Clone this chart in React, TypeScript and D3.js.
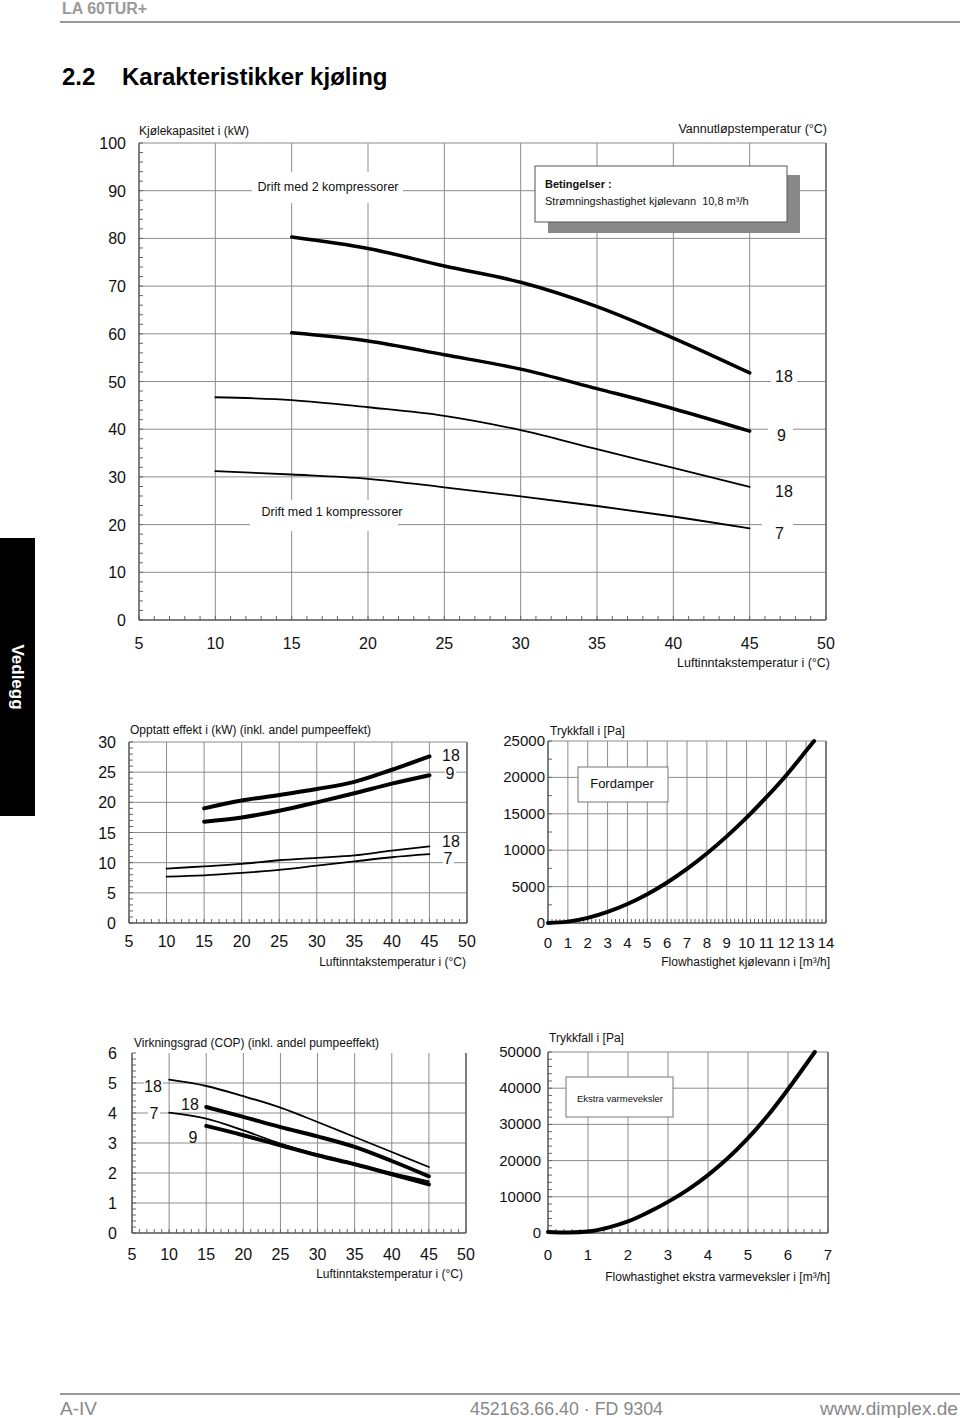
import React from 'react';
import * as d3 from 'd3';

const FONT = "'Liberation Sans', Arial, Helvetica, sans-serif";

// ---------- Chart 1: Kjølekapasitet ----------
const capAirTemps2 = [15, 20, 25, 30, 35, 40, 45];
const cap2comp18 = [80.3, 77.9, 74.2, 70.8, 65.7, 59.1, 51.8];
const cap2comp9 = [60.2, 58.5, 55.6, 52.6, 48.5, 44.3, 39.6];
const capAirTemps1 = [10, 15, 20, 25, 30, 35, 40, 45];
const cap1comp18 = [46.7, 46.1, 44.6, 42.8, 39.8, 35.8, 31.9, 27.9];
const cap1comp7 = [31.2, 30.5, 29.6, 27.8, 25.9, 23.9, 21.7, 19.2];
const capYTicks = [0, 10, 20, 30, 40, 50, 60, 70, 80, 90, 100];
const airXTicks = [5, 10, 15, 20, 25, 30, 35, 40, 45, 50];

// ---------- Chart 2: Opptatt effekt ----------
const powAirTemps2 = [15, 20, 25, 30, 35, 40, 45];
const pow2comp18 = [19.0, 20.3, 21.2, 22.2, 23.4, 25.4, 27.6];
const pow2comp9 = [16.8, 17.5, 18.6, 20.0, 21.5, 23.1, 24.5];
const powAirTemps1 = [10, 15, 20, 25, 30, 35, 40, 45];
const pow1comp18 = [9.0, 9.4, 9.8, 10.4, 10.8, 11.2, 12.0, 12.7];
const pow1comp7 = [7.7, 7.9, 8.3, 8.8, 9.5, 10.2, 10.9, 11.4];
const powYTicks = [0, 5, 10, 15, 20, 25, 30];

// ---------- Chart 3: Trykkfall fordamper ----------
const evapFlow = [0, 1, 2, 3, 4, 5, 6, 7, 8, 9, 10, 11, 12, 13, 13.4];
const evapDp = [0, 190, 700, 1520, 2610, 3960, 5570, 7430, 9550, 11900, 14480, 17280, 20300, 23650, 25000];
const evapXTicks = [0, 1, 2, 3, 4, 5, 6, 7, 8, 9, 10, 11, 12, 13, 14];
const evapYTicks = [0, 5000, 10000, 15000, 20000, 25000];

// ---------- Chart 4: COP ----------
const copAirTemps1 = [10, 15, 20, 25, 30, 35, 40, 45];
const cop1comp18 = [5.11, 4.9, 4.56, 4.18, 3.7, 3.2, 2.7, 2.2];
const cop1comp7 = [4.01, 3.81, 3.42, 2.98, 2.62, 2.31, 2.0, 1.72];
const copAirTemps2 = [15, 20, 25, 30, 35, 40, 45];
const cop2comp18 = [4.2, 3.87, 3.53, 3.22, 2.87, 2.4, 1.89];
const cop2comp9 = [3.57, 3.26, 2.92, 2.59, 2.29, 1.96, 1.62];
const copYTicks = [0, 1, 2, 3, 4, 5, 6];

// ---------- Chart 5: Trykkfall ekstra varmeveksler ----------
const extraFlow = [0, 0.5, 1, 1.5, 2, 2.5, 3, 3.5, 4, 4.5, 5, 5.5, 6, 6.67];
const extraDp = [300, 150, 400, 1500, 3200, 5700, 8600, 12000, 16000, 20700, 26200, 32500, 39700, 50000];
const extraXTicks = [0, 1, 2, 3, 4, 5, 6, 7];
const extraYTicks = [0, 10000, 20000, 30000, 40000, 50000];

type Series = { xs: number[]; ys: number[]; w: number };

type ChartProps = {
  l: number; r: number; t: number; b: number;
  xd: [number, number]; yd: [number, number];
  xTicks: number[]; yTicks: number[];
  xMinor: number; yMinor: number;
  tickFont: number; yLabelX: number; yLabelDy: number; xLabelY: number;
  topBorder: boolean;
  series: Series[];
  children?: (x: d3.ScaleLinear<number, number>, y: d3.ScaleLinear<number, number>) => React.ReactNode;
};

function range(a: number, b: number, step: number) {
  const out: number[] = [];
  const n = Math.round((b - a) / step);
  for (let i = 0; i <= n; i++) out.push(a + i * step);
  return out;
}

function Chart(p: ChartProps) {
  const x = d3.scaleLinear().domain(p.xd).range([p.l, p.r]);
  const y = d3.scaleLinear().domain(p.yd).range([p.b, p.t]);
  const line = d3.line<[number, number]>().x(d => x(d[0])).y(d => y(d[1])).curve(d3.curveCatmullRom.alpha(0.5));
  const gridC = '#8c8c8c';
  const xMinorVals = range(p.xd[0], p.xd[1], p.xMinor);
  const yMinorVals = range(p.yd[0], p.yd[1], p.yMinor);
  return (
    <g>
      {p.xTicks.filter(v => v > p.xd[0]).map(v => (
        <line key={'vx' + v} x1={x(v)} x2={x(v)} y1={p.t} y2={p.b} stroke={gridC} strokeWidth={1} />
      ))}
      {p.yTicks.filter(v => v > p.yd[0] && (p.topBorder || v < p.yd[1])).map(v => (
        <line key={'hy' + v} x1={p.l} x2={p.r} y1={y(v)} y2={y(v)} stroke={gridC} strokeWidth={1} />
      ))}
      {xMinorVals.map((v, i) => (
        <line key={'mx' + i} x1={x(v)} x2={x(v)} y1={p.b} y2={p.b - 4} stroke="#666" strokeWidth={1} />
      ))}
      {yMinorVals.map((v, i) => (
        <line key={'my' + i} x1={p.l} x2={p.l + 4} y1={y(v)} y2={y(v)} stroke="#666" strokeWidth={1} />
      ))}
      <line x1={p.l} x2={p.l} y1={p.t} y2={p.b} stroke="#555" strokeWidth={1.5} />
      <line x1={p.l} x2={p.r} y1={p.b} y2={p.b} stroke="#555" strokeWidth={1.5} />
      {p.xTicks.map(v => (
        <text key={'xl' + v} x={x(v)} y={p.xLabelY} textAnchor="middle" fontSize={p.tickFont} fontFamily={FONT} fill="#111">{v}</text>
      ))}
      {p.yTicks.map(v => (
        <text key={'yl' + v} x={p.yLabelX} y={y(v) + p.yLabelDy} textAnchor="end" fontSize={p.tickFont} fontFamily={FONT} fill="#111">{v}</text>
      ))}
      {p.children ? p.children(x, y) : null}
      {p.series.map((s, i) => (
        <path key={'s' + i} d={line(s.xs.map((v, j) => [v, s.ys[j]] as [number, number])) || ''} fill="none" stroke="#000" strokeWidth={s.w} strokeLinejoin="round" strokeLinecap="round" />
      ))}
    </g>
  );
}

function Lbl({ x, y, text, size = 16, anchor = 'start', bg = true, w = 0, h = 0, bx = 0, by = 0 }: any) {
  return (
    <g>
      {bg ? <rect x={bx} y={by} width={w} height={h} fill="#fff" /> : null}
      <text x={x} y={y} fontSize={size} fontFamily={FONT} textAnchor={anchor} fill="#111">{text}</text>
    </g>
  );
}

export default function App() {
  return (
    <svg width={960} height={1418} style={{ position: 'absolute', left: 0, top: 0, background: '#fff' }}>
      <rect x={0} y={0} width={960} height={1418} fill="#fff" />
      {/* Header */}
      <text x={62} y={14} fontSize={16} fontWeight="bold" fontFamily={FONT} fill="#999">LA 60TUR+</text>
      <line x1={60} x2={960} y1={22} y2={22} stroke="#999" strokeWidth={2} />
      <text x={62} y={85} fontSize={24} fontWeight="bold" fontFamily={FONT} fill="#000">2.2</text>
      <text x={122} y={85} fontSize={24} fontWeight="bold" fontFamily={FONT} fill="#000">Karakteristikker kjøling</text>

      {/* Side tab */}
      <rect x={0} y={538} width={35} height={278} fill="#000" />
      <text x={17} y={677} transform="rotate(90 17 677)" textAnchor="middle" dominantBaseline="central" fontSize={17} fontWeight="bold" fontFamily={FONT} fill="#fff">Vedlegg</text>

      {/* Chart 1 */}
      <Chart l={139} r={826} t={143} b={620} xd={[5, 50]} yd={[0, 100]} xTicks={airXTicks} yTicks={capYTicks}
        xMinor={1} yMinor={2} tickFont={16} yLabelX={126} yLabelDy={6} xLabelY={649} topBorder={true}
        series={[
          { xs: capAirTemps2, ys: cap2comp18, w: 3.5 },
          { xs: capAirTemps2, ys: cap2comp9, w: 3.5 },
          { xs: capAirTemps1, ys: cap1comp18, w: 1.8 },
          { xs: capAirTemps1, ys: cap1comp7, w: 1.8 },
        ]}>
        {() => (
          <g>
            <line x1={826} x2={826} y1={143} y2={620} stroke="#666" strokeWidth={1.5} />
            <text x={139} y={135} fontSize={12} fontFamily={FONT} fill="#111">Kjølekapasitet i (kW)</text>
            <text x={827} y={133} fontSize={12.5} fontFamily={FONT} textAnchor="end" fill="#111">Vannutløpstemperatur (°C)</text>
            <text x={830} y={667} fontSize={12.5} fontFamily={FONT} textAnchor="end" fill="#111">Luftinntakstemperatur i (°C)</text>
            <rect x={252} y={172} width={151} height={31} fill="#fff" />
            <text x={328} y={191} fontSize={12.5} fontFamily={FONT} textAnchor="middle" fill="#111">Drift med 2 kompressorer</text>
            <rect x={250} y={500} width={148} height={31} fill="#fff" />
            <text x={332} y={516} fontSize={12.5} fontFamily={FONT} textAnchor="middle" fill="#111">Drift med 1 kompressorer</text>
            <rect x={548} y={175} width={252} height={58} fill="#888" />
            <rect x={535} y={166} width={252} height={56} fill="#fff" stroke="#555" strokeWidth={1} />
            <text x={545} y={188} fontSize={11} fontWeight="bold" fontFamily={FONT} fill="#111">Betingelser :</text>
            <text x={545} y={205} fontSize={11} fontFamily={FONT} fill="#111">{'Strømningshastighet kjølevann\u00a0 10,8 m³/h'}</text>
            <Lbl x={775} y={382} text="18" bx={771} by={368} w={26} h={16} />
            <Lbl x={777} y={441} text="9" bx={768} by={427} w={25} h={16} />
            <Lbl x={775} y={497} text="18" bx={771} by={483} w={26} h={16} />
            <Lbl x={775} y={539} text="7" bx={762} by={523} w={31} h={17} />
          </g>
        )}
      </Chart>

      {/* Chart 2 */}
      <Chart l={129} r={467} t={742} b={923} xd={[5, 50]} yd={[0, 30]} xTicks={airXTicks} yTicks={powYTicks}
        xMinor={1} yMinor={1} tickFont={16} yLabelX={116} yLabelDy={6} xLabelY={947} topBorder={true}
        series={[
          { xs: powAirTemps2, ys: pow2comp18, w: 4 },
          { xs: powAirTemps2, ys: pow2comp9, w: 4 },
          { xs: powAirTemps1, ys: pow1comp18, w: 1.8 },
          { xs: powAirTemps1, ys: pow1comp7, w: 1.8 },
        ]}>
        {() => (
          <g>
            <line x1={467} x2={467} y1={742} y2={923} stroke="#666" strokeWidth={1.5} />
            <text x={130} y={734} fontSize={12} fontFamily={FONT} fill="#111">Opptatt effekt i (kW) (inkl. andel pumpeeffekt)</text>
            <text x={466} y={966} fontSize={12} fontFamily={FONT} textAnchor="end" fill="#111">Luftinntakstemperatur i (°C)</text>
            <Lbl x={451} y={761} text="18" anchor="middle" bx={441} by={748} w={20} h={15} />
            <Lbl x={450} y={779} text="9" anchor="middle" bx={445} by={767} w={11} h={14} />
            <Lbl x={451} y={847} text="18" anchor="middle" bx={441} by={834} w={20} h={15} />
            <Lbl x={448} y={864} text="7" anchor="middle" bx={443} by={852} w={11} h={14} />
          </g>
        )}
      </Chart>

      {/* Chart 3 */}
      <Chart l={548} r={826} t={741} b={923} xd={[0, 14]} yd={[0, 25000]} xTicks={evapXTicks} yTicks={evapYTicks}
        xMinor={0.2} yMinor={2500} tickFont={15} yLabelX={545} yLabelDy={5} xLabelY={948} topBorder={true}
        series={[{ xs: evapFlow, ys: evapDp, w: 4 }]}>
        {() => (
          <g>
            <line x1={826} x2={826} y1={741} y2={923} stroke="#666" strokeWidth={1.5} />
            <text x={550} y={735} fontSize={12} fontFamily={FONT} fill="#111">Trykkfall i [Pa]</text>
            <text x={830} y={966} fontSize={12} fontFamily={FONT} textAnchor="end" fill="#111">Flowhastighet kjølevann i [m³/h]</text>
            <rect x={578} y={767} width={90} height={35} fill="#fff" stroke="#777" strokeWidth={1} />
            <text x={622} y={788} fontSize={13} fontFamily={FONT} textAnchor="middle" fill="#111">Fordamper</text>
          </g>
        )}
      </Chart>

      {/* Chart 4 */}
      <Chart l={132} r={466} t={1053} b={1233} xd={[5, 50]} yd={[0, 6]} xTicks={airXTicks} yTicks={copYTicks}
        xMinor={1} yMinor={0.2} tickFont={16} yLabelX={117} yLabelDy={6} xLabelY={1260} topBorder={false}
        series={[
          { xs: copAirTemps1, ys: cop1comp18, w: 1.8 },
          { xs: copAirTemps1, ys: cop1comp7, w: 1.8 },
          { xs: copAirTemps2, ys: cop2comp18, w: 4 },
          { xs: copAirTemps2, ys: cop2comp9, w: 4 },
        ]}>
        {() => (
          <g>
            <line x1={466} x2={466} y1={1053} y2={1233} stroke="#666" strokeWidth={1.5} />
            <text x={134} y={1047} fontSize={12} fontFamily={FONT} fill="#111">Virkningsgrad (COP) (inkl. andel pumpeeffekt)</text>
            <text x={463} y={1278} fontSize={12} fontFamily={FONT} textAnchor="end" fill="#111">Luftinntakstemperatur i (°C)</text>
            <Lbl x={153} y={1092} text="18" anchor="middle" bx={144} by={1078} w={19} h={16} />
            <Lbl x={154} y={1119} text="7" anchor="middle" bx={148} by={1106} w={12} h={15} />
            <Lbl x={190} y={1110} text="18" anchor="middle" bg={false} />
            <Lbl x={193} y={1143} text="9" anchor="middle" bg={false} />
          </g>
        )}
      </Chart>

      {/* Chart 5 */}
      <Chart l={548} r={828} t={1052} b={1233} xd={[0, 7]} yd={[0, 50000]} xTicks={extraXTicks} yTicks={extraYTicks}
        xMinor={0.2} yMinor={2000} tickFont={15} yLabelX={541} yLabelDy={5} xLabelY={1260} topBorder={true}
        series={[{ xs: extraFlow, ys: extraDp, w: 4 }]}>
        {() => (
          <g>
            <line x1={828} x2={828} y1={1052} y2={1233} stroke="#666" strokeWidth={1.5} />
            <text x={549} y={1042} fontSize={12} fontFamily={FONT} fill="#111">Trykkfall i [Pa]</text>
            <text x={830} y={1281} fontSize={12} fontFamily={FONT} textAnchor="end" fill="#111">Flowhastighet ekstra varmeveksler i [m³/h]</text>
            <rect x={566} y={1077} width={107} height={40} fill="#fff" stroke="#777" strokeWidth={1} />
            <text x={620} y={1102} fontSize={9.5} fontFamily={FONT} textAnchor="middle" fill="#111">Ekstra varmeveksler</text>
          </g>
        )}
      </Chart>

      {/* Footer */}
      <line x1={60} x2={960} y1={1394} y2={1394} stroke="#999" strokeWidth={2} />
      <text x={60} y={1415} fontSize={19} fontFamily={FONT} fill="#888" textLength={37} lengthAdjust="spacingAndGlyphs">A-IV</text>
      <text x={470} y={1415} fontSize={19} fontFamily={FONT} fill="#888" textLength={193} lengthAdjust="spacingAndGlyphs">452163.66.40 · FD 9304</text>
      <text x={820} y={1415} fontSize={19} fontFamily={FONT} fill="#888" textLength={138} lengthAdjust="spacingAndGlyphs">www.dimplex.de</text>
    </svg>
  );
}
